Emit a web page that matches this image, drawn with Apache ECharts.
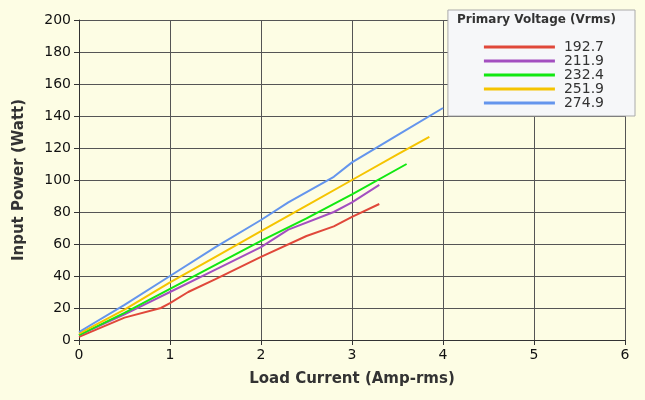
<!DOCTYPE html>
<html><head><meta charset="utf-8">
<script src="https://cdn.jsdelivr.net/npm/echarts@6/dist/echarts.min.js"></script>
<style>body{margin:0;background:#fdfde6}#c{width:645px;height:400px}</style>
</head><body><div id="c"></div>
<script>
var names = ['192.7', '211.9', '232.4', '251.9', '274.9'];
var colors = ['#e0483a', '#a34fc0', '#11e811', '#f5c400', '#6495ed'];
var v1927 = [[0, 2], [0.5, 14], [0.9, 20], [1, 23], [1.2, 30], [1.5, 38], [2, 52], [2.5, 65], [2.8, 71], [3, 77], [3.3, 85]];
var v2119 = [[0, 3], [0.5, 16], [1, 30], [1.5, 44], [2, 58], [2.3, 69], [2.8, 80], [3, 86], [3.3, 97]];
var v2324 = [[0, 3], [0.5, 17], [1, 32], [1.5, 47], [2, 62], [2.5, 76], [3, 91], [3.6, 110]];
var v2519 = [[0, 4], [0.5, 19], [1, 36], [1.5, 52], [2, 68], [2.5, 84], [3, 100], [3.5, 116], [3.85, 127]];
var v2749 = [[0, 5], [0.5, 22], [1, 40], [1.5, 58], [2, 75], [2.3, 86], [2.8, 102], [3, 111], [3.5, 128], [4, 145]];
var seriesData = [v1927, v2119, v2324, v2519, v2749];

var chart = echarts.init(document.getElementById('c'));
var axisText = { color: '#111', fontSize: 14, fontFamily: 'DejaVu Sans' };
chart.setOption({
  backgroundColor: '#fdfde4',
  grid: { left: 79, right: 20, top: 20, bottom: 60 },
  xAxis: {
    type: 'value', min: 0, max: 6, interval: 1,
    name: 'Load Current (Amp-rms)', nameLocation: 'middle', nameGap: 32,
    nameTextStyle: { fontSize: 15, fontWeight: 'bold', color: '#333', fontFamily: 'DejaVu Sans' },
    axisLine: { lineStyle: { color: '#333' } },
    axisTick: { show: true, lineStyle: { color: '#333' } },
    splitLine: { lineStyle: { color: '#555' } },
    axisLabel: axisText
  },
  yAxis: {
    type: 'value', min: 0, max: 200, interval: 20,
    name: 'Input Power (Watt)', nameLocation: 'middle', nameGap: 52,
    nameTextStyle: { fontSize: 15, fontWeight: 'bold', color: '#333', fontFamily: 'DejaVu Sans' },
    axisLine: { show: true, lineStyle: { color: '#333' } },
    axisTick: { show: true, lineStyle: { color: '#333' } },
    splitLine: { lineStyle: { color: '#555' } },
    axisLabel: axisText
  },
  legend: {
    data: names, orient: 'vertical', right: 10, top: 10,
    padding: [30, 31, 6, 36], itemGap: 0, itemWidth: 71, itemHeight: 3,
    backgroundColor: '#f6f7f9', borderColor: '#aaa', borderWidth: 1,
    textStyle: { color: '#333', fontSize: 14, fontFamily: 'DejaVu Sans', padding: [0, 0, 0, 4] },
    icon: 'rect'
  },
  graphic: [{
    type: 'text', left: 457, top: 14, z: 100,
    style: { text: 'Primary Voltage (Vrms)', fill: '#333', font: 'bold 12px DejaVu Sans' }
  }],
  series: seriesData.map(function (d, i) {
    return { name: names[i], type: 'line', data: d, showSymbol: false,
      lineStyle: { width: 2, color: colors[i] }, itemStyle: { color: colors[i] } };
  })
});
</script></body></html>
